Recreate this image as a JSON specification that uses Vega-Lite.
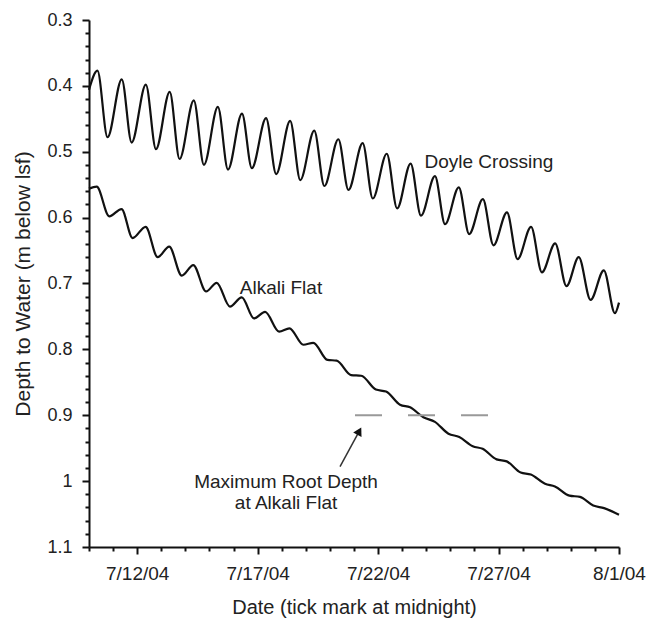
{
  "$schema": "https://vega.github.io/schema/vega-lite/v6.json",
  "width": 530,
  "height": 527,
  "autosize": {"type": "none"},
  "padding": {"left": 89, "top": 20, "right": 27, "bottom": 72},
  "background": "white",
  "config": {
    "view": {"stroke": null},
    "font": "Liberation Sans",
    "axis": {
      "domainColor": "#111",
      "domainWidth": 2,
      "tickColor": "#111",
      "tickWidth": 2,
      "grid": false,
      "labelColor": "#222",
      "titleColor": "#222",
      "labelFont": "Liberation Sans",
      "titleFont": "Liberation Sans",
      "titleFontWeight": "normal",
      "labelFontSize": 18,
      "titleFontSize": 21
    }
  },
  "datasets": {
    "doyle": [
      {"t": "2004-07-10T00:00", "v": 0.406},
      {"t": "2004-07-10T08:24", "v": 0.377},
      {"t": "2004-07-10T18:29", "v": 0.478},
      {"t": "2004-07-11T08:38", "v": 0.390},
      {"t": "2004-07-11T18:29", "v": 0.486},
      {"t": "2004-07-12T08:38", "v": 0.398},
      {"t": "2004-07-12T18:43", "v": 0.496},
      {"t": "2004-07-13T08:24", "v": 0.409},
      {"t": "2004-07-13T18:14", "v": 0.511},
      {"t": "2004-07-14T08:24", "v": 0.422},
      {"t": "2004-07-14T18:29", "v": 0.520},
      {"t": "2004-07-15T08:24", "v": 0.432},
      {"t": "2004-07-15T18:29", "v": 0.527},
      {"t": "2004-07-16T08:24", "v": 0.442},
      {"t": "2004-07-16T18:14", "v": 0.525},
      {"t": "2004-07-17T08:24", "v": 0.449},
      {"t": "2004-07-17T18:29", "v": 0.534},
      {"t": "2004-07-18T08:24", "v": 0.453},
      {"t": "2004-07-18T18:29", "v": 0.543},
      {"t": "2004-07-19T08:24", "v": 0.468},
      {"t": "2004-07-19T18:29", "v": 0.552},
      {"t": "2004-07-20T08:24", "v": 0.481},
      {"t": "2004-07-20T18:29", "v": 0.558},
      {"t": "2004-07-21T08:38", "v": 0.487},
      {"t": "2004-07-21T18:43", "v": 0.571},
      {"t": "2004-07-22T08:38", "v": 0.503},
      {"t": "2004-07-22T18:58", "v": 0.586},
      {"t": "2004-07-23T08:24", "v": 0.518},
      {"t": "2004-07-23T18:43", "v": 0.597},
      {"t": "2004-07-24T08:38", "v": 0.537},
      {"t": "2004-07-24T18:43", "v": 0.610},
      {"t": "2004-07-25T08:24", "v": 0.554},
      {"t": "2004-07-25T18:43", "v": 0.625},
      {"t": "2004-07-26T08:24", "v": 0.572},
      {"t": "2004-07-26T18:58", "v": 0.642},
      {"t": "2004-07-27T08:24", "v": 0.592},
      {"t": "2004-07-27T18:58", "v": 0.663},
      {"t": "2004-07-28T08:24", "v": 0.614},
      {"t": "2004-07-28T19:12", "v": 0.683},
      {"t": "2004-07-29T08:24", "v": 0.639},
      {"t": "2004-07-29T19:41", "v": 0.704},
      {"t": "2004-07-30T07:55", "v": 0.660},
      {"t": "2004-07-30T19:41", "v": 0.725},
      {"t": "2004-07-31T08:53", "v": 0.680},
      {"t": "2004-07-31T19:55", "v": 0.745},
      {"t": "2004-08-01T00:00", "v": 0.729}
    ],
    "alkali": [
      {"t": "2004-07-10T00:00", "v": 0.556},
      {"t": "2004-07-10T07:41", "v": 0.553},
      {"t": "2004-07-10T20:10", "v": 0.598},
      {"t": "2004-07-11T08:24", "v": 0.587},
      {"t": "2004-07-11T19:26", "v": 0.631},
      {"t": "2004-07-12T08:24", "v": 0.614},
      {"t": "2004-07-12T20:24", "v": 0.660},
      {"t": "2004-07-13T07:55", "v": 0.644},
      {"t": "2004-07-13T20:24", "v": 0.688},
      {"t": "2004-07-14T07:55", "v": 0.672},
      {"t": "2004-07-14T20:38", "v": 0.712},
      {"t": "2004-07-15T07:12", "v": 0.699},
      {"t": "2004-07-15T20:24", "v": 0.735},
      {"t": "2004-07-16T08:10", "v": 0.721},
      {"t": "2004-07-16T20:24", "v": 0.753},
      {"t": "2004-07-17T07:26", "v": 0.743},
      {"t": "2004-07-17T21:22", "v": 0.773},
      {"t": "2004-07-18T07:41", "v": 0.768},
      {"t": "2004-07-18T21:36", "v": 0.793},
      {"t": "2004-07-19T07:26", "v": 0.790},
      {"t": "2004-07-19T21:36", "v": 0.816},
      {"t": "2004-07-20T06:43", "v": 0.817},
      {"t": "2004-07-20T21:07", "v": 0.839},
      {"t": "2004-07-21T07:12", "v": 0.840},
      {"t": "2004-07-21T21:50", "v": 0.861},
      {"t": "2004-07-22T07:55", "v": 0.864},
      {"t": "2004-07-22T21:50", "v": 0.884},
      {"t": "2004-07-23T07:55", "v": 0.888},
      {"t": "2004-07-23T21:07", "v": 0.903},
      {"t": "2004-07-24T08:38", "v": 0.910},
      {"t": "2004-07-24T22:05", "v": 0.928},
      {"t": "2004-07-25T08:53", "v": 0.933},
      {"t": "2004-07-25T22:19", "v": 0.947},
      {"t": "2004-07-26T08:10", "v": 0.951},
      {"t": "2004-07-26T22:05", "v": 0.967},
      {"t": "2004-07-27T08:10", "v": 0.970},
      {"t": "2004-07-27T22:05", "v": 0.987},
      {"t": "2004-07-28T08:10", "v": 0.990},
      {"t": "2004-07-28T22:19", "v": 1.004},
      {"t": "2004-07-29T08:10", "v": 1.008},
      {"t": "2004-07-29T22:34", "v": 1.022},
      {"t": "2004-07-30T09:07", "v": 1.024},
      {"t": "2004-07-30T22:19", "v": 1.037},
      {"t": "2004-07-31T09:07", "v": 1.041},
      {"t": "2004-08-01T00:00", "v": 1.051}
    ],
    "rootline": [
      {"t": "2004-07-21T01:00", "v": 0.9},
      {"t": "2004-07-26T13:30", "v": 0.9}
    ],
    "arrowline": [
      {"t": "2004-07-20T10:05", "v": 0.978, "t2": "2004-07-21T05:17", "v2": 0.924}
    ],
    "arrowhead": [
      {"t": "2004-07-21T05:17", "v": 0.924}
    ],
    "labeltexts": [
      {"t": "2004-07-26T14:24", "v": 0.515, "text": "Doyle Crossing"},
      {"t": "2004-07-17T23:17", "v": 0.707, "text": "Alkali Flat"},
      {"t": "2004-07-18T04:19", "v": 1.001, "text": "Maximum Root Depth"},
      {"t": "2004-07-18T04:19", "v": 1.033, "text": "at Alkali Flat"}
    ]
  },
  "encoding": {
    "x": {
      "field": "t",
      "type": "temporal",
      "scale": {
        "domain": [
          {"year": 2004, "month": 7, "date": 10},
          {"year": 2004, "month": 8, "date": 1}
        ],
        "nice": false
      },
      "axis": {
        "title": "Date (tick mark at midnight)",
        "values": [
          {"year": 2004, "month": 7, "date": 10},
          {"year": 2004, "month": 7, "date": 11},
          {"year": 2004, "month": 7, "date": 12},
          {"year": 2004, "month": 7, "date": 13},
          {"year": 2004, "month": 7, "date": 14},
          {"year": 2004, "month": 7, "date": 15},
          {"year": 2004, "month": 7, "date": 16},
          {"year": 2004, "month": 7, "date": 17},
          {"year": 2004, "month": 7, "date": 18},
          {"year": 2004, "month": 7, "date": 19},
          {"year": 2004, "month": 7, "date": 20},
          {"year": 2004, "month": 7, "date": 21},
          {"year": 2004, "month": 7, "date": 22},
          {"year": 2004, "month": 7, "date": 23},
          {"year": 2004, "month": 7, "date": 24},
          {"year": 2004, "month": 7, "date": 25},
          {"year": 2004, "month": 7, "date": 26},
          {"year": 2004, "month": 7, "date": 27},
          {"year": 2004, "month": 7, "date": 28},
          {"year": 2004, "month": 7, "date": 29},
          {"year": 2004, "month": 7, "date": 30},
          {"year": 2004, "month": 7, "date": 31},
          {"year": 2004, "month": 8, "date": 1}
        ],
        "labelExpr": "(date(datum.value) % 5 == 2 || date(datum.value) == 1) ? timeFormat(datum.value, '%-m/%-d/%y') : ''",
        "tickSize": {"condition": {"test": "date(datum.value) % 5 == 2 || date(datum.value) == 1", "value": 7}, "value": 4},
        "labelFlush": false,
        "labelOverlap": false,
        "labelBound": false,
        "labelPadding": 10,
        "labelFontSize": 19,
        "titlePadding": 14,
        "titleFontSize": 20
      }
    },
    "y": {
      "field": "v",
      "type": "quantitative",
      "scale": {"domain": [0.3, 1.1], "reverse": true, "nice": false, "zero": false},
      "axis": {
        "title": "Depth to Water (m below lsf)",
        "values": [0.3, 0.32, 0.34, 0.36, 0.38, 0.4, 0.42, 0.44, 0.46, 0.48, 0.5, 0.52, 0.54, 0.56, 0.58, 0.6, 0.62, 0.64, 0.66, 0.68, 0.7, 0.72, 0.74, 0.76, 0.78, 0.8, 0.82, 0.84, 0.86, 0.88, 0.9, 0.92, 0.94, 0.96, 0.98, 1.0, 1.02, 1.04, 1.06, 1.08, 1.1],
        "labelExpr": "abs(datum.value * 10 - round(datum.value * 10)) < 0.01 ? toString(round(datum.value * 10) / 10) : ''",
        "tickSize": {"condition": {"test": "abs(datum.value * 10 - round(datum.value * 10)) < 0.01", "value": 7}, "value": 4},
        "labelOverlap": false,
        "labelBound": false,
        "labelFlush": false,
        "labelPadding": 10,
        "titlePadding": 13
      }
    }
  },
  "layer": [
    {
      "data": {"name": "doyle"},
      "mark": {"type": "line", "color": "#111", "strokeWidth": 2.2, "interpolate": "monotone"}
    },
    {
      "data": {"name": "alkali"},
      "mark": {"type": "line", "color": "#111", "strokeWidth": 2.2, "interpolate": "monotone"}
    },
    {
      "data": {"name": "rootline"},
      "mark": {"type": "line", "color": "#999", "strokeWidth": 2, "strokeDash": [27, 26]}
    },
    {
      "data": {"name": "arrowline"},
      "mark": {"type": "rule", "color": "#333", "strokeWidth": 1.5},
      "encoding": {
        "x2": {"field": "t2"},
        "y2": {"field": "v2"}
      }
    },
    {
      "data": {"name": "arrowhead"},
      "mark": {"type": "point", "shape": "triangle-up", "filled": true, "color": "#111", "size": 90, "angle": 28.5, "opacity": 1}
    },
    {
      "data": {"name": "labeltexts"},
      "mark": {"type": "text", "font": "Liberation Sans", "fontSize": 19, "color": "#222", "align": "center", "baseline": "middle"},
      "encoding": {"text": {"field": "text"}}
    }
  ]
}
